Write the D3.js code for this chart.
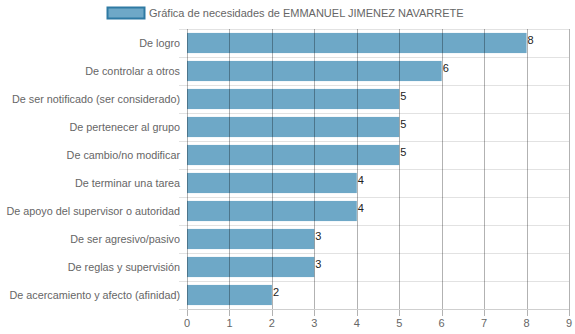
<!DOCTYPE html>
<html>
<head>
<meta charset="utf-8">
<script src="https://cdn.jsdelivr.net/npm/d3@7"></script>
<style>
  html, body { margin: 0; padding: 0; background: #fff; }
  svg { display: block; font-family: "Liberation Sans", Arial, Helvetica, sans-serif; }
</style>
</head>
<body>
<svg id="chart" width="575" height="334"></svg>
<script>
const title = "Gráfica de necesidades de EMMANUEL JIMENEZ NAVARRETE";
const categories = [
  "De logro",
  "De controlar a otros",
  "De ser notificado (ser considerado)",
  "De pertenecer al grupo",
  "De cambio/no modificar",
  "De terminar una tarea",
  "De apoyo del supervisor o autoridad",
  "De ser agresivo/pasivo",
  "De reglas y supervisión",
  "De acercamiento y afecto (afinidad)"
];
const values = [8, 6, 5, 5, 5, 4, 4, 3, 3, 2];
const xTicks = [0, 1, 2, 3, 4, 5, 6, 7, 8, 9];

const svg = d3.select("#chart");
const margin = { top: 29, right: 6, bottom: 25, left: 187 };
const W = 575, H = 334;
const innerW = W - margin.left - margin.right;
const innerH = H - margin.top - margin.bottom;

const x = d3.scaleLinear().domain([0, 9]).range([margin.left, margin.left + innerW]);
const y = d3.scaleBand().domain(categories).range([margin.top, margin.top + innerH])
  .paddingInner(0.28).paddingOuter(0.14);
const band = d3.scaleBand().domain(categories).range([margin.top, margin.top + innerH]);

const barFill = "#6ea8c7";

// legend
const lg = svg.append("g");
lg.append("rect").attr("x", 107.5).attr("y", 7.5).attr("width", 37).attr("height", 11)
  .attr("fill", barFill).attr("stroke", "#2f7aa3").attr("stroke-width", 2);
lg.append("text").attr("x", 149).attr("y", 17).attr("font-size", 11).attr("fill", "#666").text(title);

// horizontal category grid lines
const hLines = categories.map(c => band(c)).concat([margin.top + innerH]);
svg.append("g").selectAll("line").data(hLines).join("line")
  .attr("x1", margin.left - 8).attr("x2", margin.left + innerW)
  .attr("y1", d => Math.round(d) + 0.5).attr("y2", d => Math.round(d) + 0.5)
  .attr("stroke", "#e2e2e2").attr("stroke-width", 1);

// bars
svg.append("g").selectAll("rect").data(values).join("rect")
  .attr("x", x(0))
  .attr("y", (d, i) => y(categories[i]))
  .attr("width", d => x(d) - x(0))
  .attr("height", y.bandwidth())
  .attr("fill", barFill);

// vertical value grid lines, drawn over the bars
svg.append("g").selectAll("line").data(xTicks).join("line")
  .attr("x1", d => Math.round(x(d)) + 0.5).attr("x2", d => Math.round(x(d)) + 0.5)
  .attr("y1", margin.top).attr("y2", margin.top + innerH + 7)
  .attr("stroke", "rgba(0,0,0,0.3)").attr("stroke-width", 1);

// x axis baseline
svg.append("line")
  .attr("x1", margin.left).attr("x2", margin.left + innerW)
  .attr("y1", margin.top + innerH + 0.5).attr("y2", margin.top + innerH + 0.5)
  .attr("stroke", "#cfcfcf");

// x tick labels
svg.append("g").selectAll("text").data(xTicks).join("text")
  .attr("x", d => x(d)).attr("y", H - 7)
  .attr("text-anchor", "middle").attr("font-size", 11).attr("fill", "#666")
  .text(d => d);

// category labels
svg.append("g").selectAll("text").data(categories).join("text")
  .attr("x", margin.left - 7).attr("y", d => band(d) + band.bandwidth() / 2 + 4)
  .attr("text-anchor", "end").attr("font-size", 10.8).attr("fill", "#666")
  .text(d => d);

// value labels
svg.append("g").selectAll("text").data(values).join("text")
  .attr("x", d => x(d) + 1).attr("y", (d, i) => band(categories[i]) + band.bandwidth() / 2 + 1)
  .attr("font-size", 11).attr("fill", "#222")
  .text(d => d);
</script>
</body>
</html>
